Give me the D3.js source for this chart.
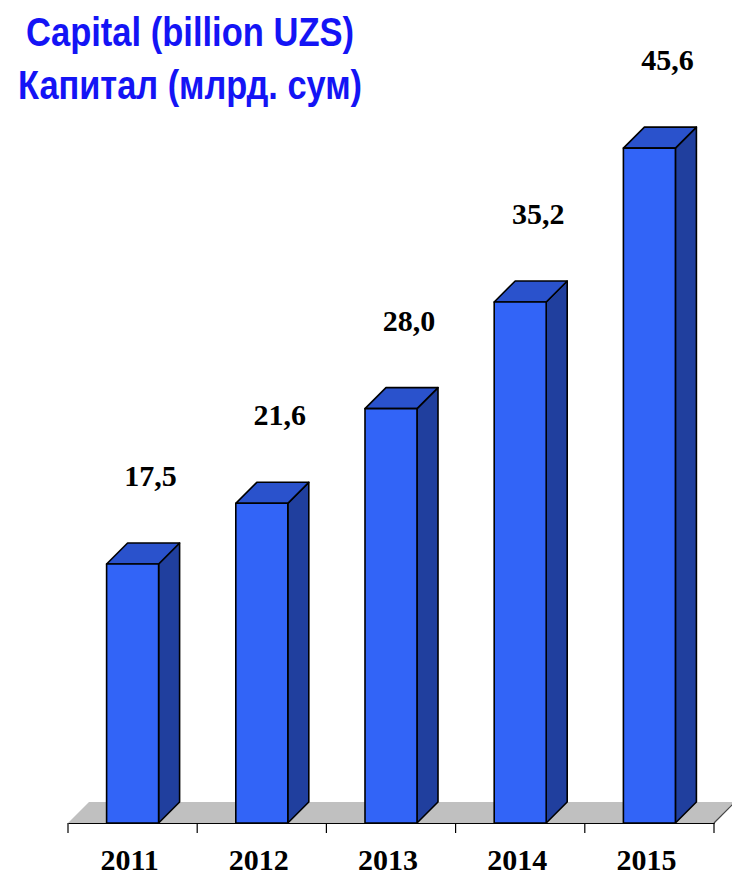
<!DOCTYPE html>
<html>
<head>
<meta charset="utf-8">
<script src="https://cdn.jsdelivr.net/npm/d3@7"></script>
<style>
  html, body { margin: 0; padding: 0; background: #ffffff; }
  svg { display: block; }
</style>
</head>
<body>
<script>
// ---- data ----
const categories = ["2011", "2012", "2013", "2014", "2015"];
const capital = [17.5, 21.6, 28.0, 35.2, 45.6];
const valueLabels = ["17,5", "21,6", "28,0", "35,2", "45,6"];
const titleLines = ["Capital (billion UZS)", "Капитал (млрд. сум)"];

// ---- layout ----
const W = 732, H = 878;
const depth = 21;          // 3D depth offset
const baseY = 823;
const svg = d3.select("body").append("svg").attr("width", W).attr("height", H);

const x = d3.scaleBand().domain(categories).range([68, 714]).paddingInner(0).paddingOuter(0);
const y = d3.scaleLinear().domain([0, 50]).range([baseY, baseY - 740]);
const barW = 52;

// floor
const fx0 = x.range()[0], fx1 = x.range()[1];
svg.append("polygon")
  .attr("points", [[fx0, baseY], [fx1, baseY], [fx1 + depth, baseY - depth], [fx0 + depth, baseY - depth]].map(p => p.join(",")).join(" "))
  .attr("fill", "#c0c0c0");
svg.append("line")
  .attr("x1", fx1).attr("y1", baseY).attr("x2", fx1 + depth).attr("y2", baseY - depth)
  .attr("stroke", "#444").attr("stroke-width", 1.2);

// bars
const bars = svg.append("g");
categories.forEach((c, i) => {
  const cx = x(c) + x.bandwidth() / 2;
  const l = cx - barW / 2, r = cx + barW / 2;
  const t = y(capital[i]);
  const g = bars.append("g").attr("stroke", "#000").attr("stroke-width", 1.6).attr("stroke-linejoin", "round");
  g.append("polygon")
    .attr("points", [[r, baseY], [r + depth, baseY - depth], [r + depth, t - depth], [r, t]].map(p => p.join(",")).join(" "))
    .attr("fill", "#203f9e");
  g.append("polygon")
    .attr("points", [[l, t], [r, t], [r + depth, t - depth], [l + depth, t - depth]].map(p => p.join(",")).join(" "))
    .attr("fill", "#2a52cc");
  g.append("rect")
    .attr("x", l).attr("y", t).attr("width", barW).attr("height", baseY - t)
    .attr("fill", "#3264f7");
});

// x axis line and ticks
const axis = d3.axisBottom(x).tickSize(0).tickFormat("");
const axG = svg.append("g").attr("transform", `translate(0,${baseY})`).call(axis);
axG.select(".domain").attr("stroke", "#000").attr("stroke-width", 1.2);
const boundaries = categories.map(c => x(c)).concat([fx1]);
svg.append("g").selectAll("line").data(boundaries).join("line")
  .attr("x1", d => d).attr("x2", d => d)
  .attr("y1", baseY).attr("y2", baseY + 10)
  .attr("stroke", "#000").attr("stroke-width", 1.2);

// category labels
svg.append("g").selectAll("text").data(categories).join("text")
  .attr("x", d => x(d) + x.bandwidth() / 2 - 3)
  .attr("y", 870)
  .attr("text-anchor", "middle")
  .attr("font-family", "'Liberation Serif', 'Times New Roman', serif")
  .attr("font-weight", "bold")
  .attr("font-size", 30)
  .attr("fill", "#000")
  .text(d => d);

// value labels
svg.append("g").selectAll("text").data(capital).join("text")
  .attr("x", (d, i) => x(categories[i]) + x.bandwidth() / 2 + 18)
  .attr("y", d => y(d) - 78)
  .attr("text-anchor", "middle")
  .attr("font-family", "'Liberation Serif', 'Times New Roman', serif")
  .attr("font-weight", "bold")
  .attr("font-size", 30)
  .attr("fill", "#000")
  .text((d, i) => valueLabels[i]);

// title
const titleLens = [328, 344];
svg.append("g").selectAll("text").data(titleLines).join("text")
  .attr("x", 190)
  .attr("y", (d, i) => 46 + i * 53)
  .attr("text-anchor", "middle")
  .attr("font-family", "'Liberation Sans', Arial, sans-serif")
  .attr("font-weight", "bold")
  .attr("font-size", 40)
  .attr("fill", "#1414f5")
  .attr("textLength", (d, i) => titleLens[i])
  .attr("lengthAdjust", "spacingAndGlyphs")
  .text(d => d);
</script>
</body>
</html>
